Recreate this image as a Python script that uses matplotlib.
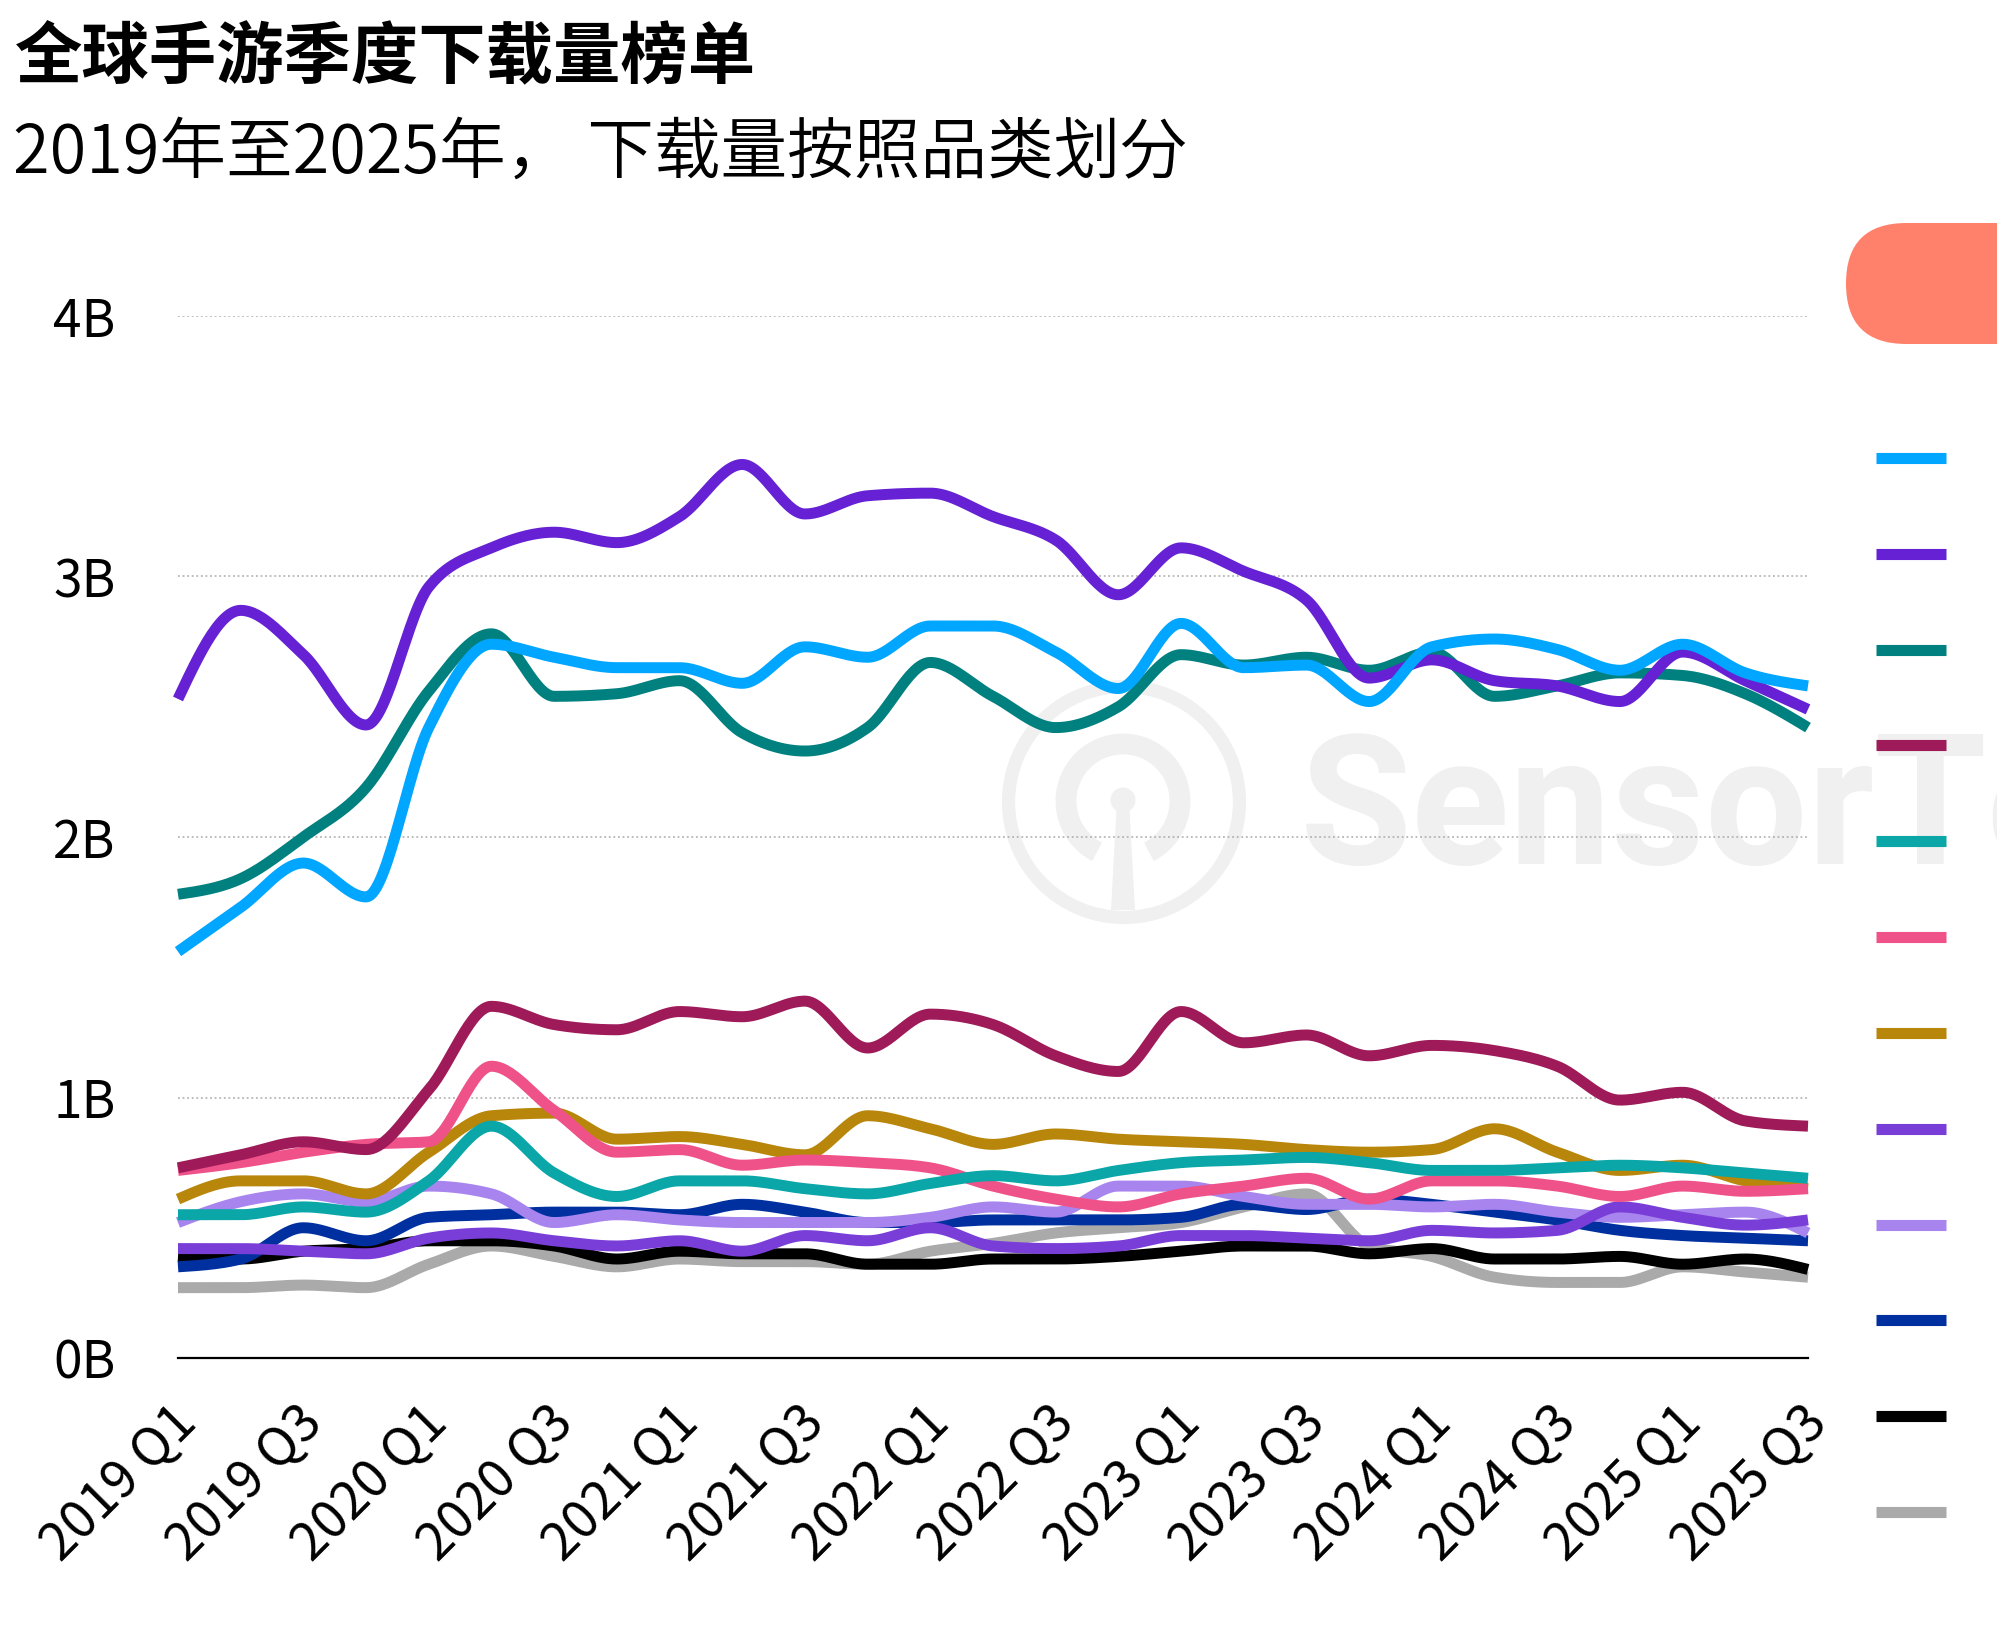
import numpy as np
import matplotlib.pyplot as plt
import matplotlib.transforms as mtransforms
from matplotlib import font_manager
from matplotlib.patches import FancyBboxPatch, Circle, Arc, Polygon

plt.rcParams['font.family'] = ['Noto Sans CJK SC', 'DejaVu Sans']

W, H = 1997, 1626

quarters = [f"{y} Q{q}" for y in range(2019, 2026) for q in range(1, 5)][:27]
y_ticks = [0, 1, 2, 3, 4]
y_labels = ['0B', '1B', '2B', '3B', '4B']

title = '全球手游季度下载量榜单'
subtitle = '2019年至2025年， 下载量按照品类划分'

# quarterly downloads, billions, legend order
light_blue = [1.56, 1.73, 1.90, 1.77, 2.42, 2.74, 2.69, 2.65, 2.65, 2.59, 2.73, 2.69, 2.81, 2.81,
              2.71, 2.57, 2.82, 2.65, 2.66, 2.52, 2.73, 2.76, 2.72, 2.64, 2.74, 2.63, 2.58]
violet = [2.53, 2.87, 2.70, 2.43, 2.96, 3.11, 3.17, 3.13, 3.23, 3.43, 3.24, 3.31, 3.32, 3.23,
          3.14, 2.93, 3.11, 3.02, 2.91, 2.61, 2.68, 2.60, 2.58, 2.52, 2.71, 2.60, 2.49]
dark_teal = [1.78, 1.84, 2.00, 2.19, 2.56, 2.78, 2.54, 2.55, 2.60, 2.40, 2.33, 2.42, 2.67, 2.54,
             2.42, 2.50, 2.70, 2.66, 2.69, 2.64, 2.71, 2.54, 2.58, 2.63, 2.62, 2.55, 2.42]
maroon = [0.73, 0.78, 0.83, 0.80, 1.03, 1.35, 1.28, 1.26, 1.33, 1.31, 1.37, 1.19, 1.32, 1.28,
          1.16, 1.10, 1.33, 1.21, 1.24, 1.16, 1.20, 1.18, 1.12, 0.99, 1.02, 0.91, 0.89]
light_teal = [0.55, 0.55, 0.58, 0.56, 0.68, 0.89, 0.71, 0.62, 0.68, 0.68, 0.65, 0.63, 0.67, 0.70,
              0.68, 0.72, 0.75, 0.76, 0.77, 0.75, 0.72, 0.72, 0.73, 0.74, 0.73, 0.71, 0.69]
pink = [0.72, 0.75, 0.79, 0.82, 0.83, 1.12, 0.95, 0.79, 0.80, 0.74, 0.76, 0.75, 0.73, 0.66,
        0.61, 0.58, 0.63, 0.66, 0.69, 0.61, 0.68, 0.68, 0.66, 0.62, 0.66, 0.64, 0.65]
gold = [0.61, 0.68, 0.68, 0.63, 0.79, 0.93, 0.94, 0.84, 0.85, 0.82, 0.78, 0.93, 0.88, 0.82,
        0.86, 0.84, 0.83, 0.82, 0.80, 0.79, 0.80, 0.88, 0.79, 0.72, 0.74, 0.68, 0.65]
purple = [0.42, 0.42, 0.41, 0.40, 0.46, 0.48, 0.45, 0.43, 0.45, 0.41, 0.47, 0.45, 0.50, 0.43,
          0.42, 0.43, 0.47, 0.47, 0.46, 0.45, 0.49, 0.48, 0.49, 0.58, 0.54, 0.51, 0.53]
lavender = [0.52, 0.60, 0.63, 0.60, 0.66, 0.63, 0.52, 0.55, 0.53, 0.52, 0.52, 0.52, 0.54, 0.58,
            0.56, 0.66, 0.66, 0.62, 0.59, 0.59, 0.58, 0.59, 0.56, 0.54, 0.55, 0.56, 0.48]
navy = [0.35, 0.38, 0.50, 0.45, 0.54, 0.55, 0.56, 0.56, 0.55, 0.59, 0.56, 0.52, 0.52, 0.53,
        0.53, 0.53, 0.54, 0.59, 0.57, 0.61, 0.59, 0.56, 0.53, 0.49, 0.47, 0.46, 0.45]
black = [0.39, 0.38, 0.41, 0.42, 0.45, 0.45, 0.43, 0.38, 0.41, 0.40, 0.40, 0.36, 0.36, 0.38,
         0.38, 0.39, 0.41, 0.43, 0.43, 0.40, 0.42, 0.38, 0.38, 0.39, 0.36, 0.38, 0.34]
gray = [0.27, 0.27, 0.28, 0.27, 0.36, 0.43, 0.39, 0.35, 0.38, 0.37, 0.37, 0.36, 0.41, 0.44,
        0.48, 0.50, 0.52, 0.58, 0.63, 0.43, 0.39, 0.31, 0.29, 0.29, 0.35, 0.33, 0.31]

series = [
    (light_blue, '#00a6ff'),
    (violet, '#6521d3'),
    (dark_teal, '#00807f'),
    (maroon, '#9e1a58'),
    (light_teal, '#0aa6a8'),
    (pink, '#ef5289'),
    (gold, '#b8860b'),
    (purple, '#7a3ed8'),
    (lavender, '#a784ee'),
    (navy, '#0030a0'),
    (black, '#000000'),
    (gray, '#aaaaaa'),
]


def monotone_curve(vals, steps=30):
    # monotone cubic drawing between the quarterly points (like d3 curveMonotoneX)
    y = np.asarray(vals, float)
    n = len(y)
    s = np.diff(y)
    t = np.zeros(n)
    for i in range(1, n - 1):
        if s[i - 1] * s[i] > 0:
            p = (s[i - 1] + s[i]) / 2
            t[i] = np.sign(s[i - 1]) * min(2 * abs(s[i - 1]), 2 * abs(s[i]), abs(p))
    t[0] = (3 * s[0] - t[1]) / 2
    t[-1] = (3 * s[-1] - t[-2]) / 2
    xs, ys = [], []
    u = np.linspace(0, 1, steps, endpoint=False)
    for i in range(n - 1):
        h00 = 2 * u**3 - 3 * u**2 + 1
        h10 = u**3 - 2 * u**2 + u
        h01 = -2 * u**3 + 3 * u**2
        h11 = u**3 - u**2
        xs.append(i + u)
        ys.append(h00 * y[i] + h10 * t[i] + h01 * y[i + 1] + h11 * t[i + 1])
    xs.append([n - 1])
    ys.append([y[-1]])
    return np.concatenate(xs), np.concatenate(ys)


# thin CJK face for the subtitle if one is installed, narrow face for the watermark
installed = font_manager.fontManager.ttflist
thin_cjk = [f for f in installed if 'Noto Sans CJK' in f.name and str(f.weight) in
            ('100', '200', '300', '350', 'thin', 'light', 'extra-light', 'ultralight')]
if thin_cjk:
    thin_cjk.sort(key=lambda f: ('SC' not in f.name, -int(f.weight) if str(f.weight).isdigit() else 0))
    sub_font = font_manager.FontProperties(fname=thin_cjk[0].fname, size=48)
else:
    sub_font = font_manager.FontProperties(family=['Noto Sans CJK SC', 'DejaVu Sans'], size=48)
names = {f.name for f in installed}
wm_family = 'Liberation Sans Narrow' if 'Liberation Sans Narrow' in names else 'Roboto'

fig = plt.figure(figsize=(W / 100, H / 100), dpi=100)

# background canvas in pixel units: watermark and the cut-off button
bg = fig.add_axes([0, 0, 1, 1], zorder=0)
bg.set_xlim(0, W)
bg.set_ylim(H, 0)
bg.axis('off')
wm = '#f0f0f0'
bg.add_patch(Circle((1124, 802), 115.5, fill=False, lw=9.5, color=wm))
bg.add_patch(Arc((1123, 801), 114, 114, theta1=117, theta2=423, lw=15, color=wm))
bg.add_patch(Polygon([(1117, 800), (1129, 800), (1135, 910), (1111, 910)], closed=True, color=wm, lw=0))
bg.add_patch(Circle((1123, 800), 12.5, color=wm, lw=0))
bg.text(1300, 864, 'SensorTower', fontsize=131, fontweight='bold', family=wm_family, color=wm,
        ha='left', va='baseline', clip_on=True)
bg.add_patch(FancyBboxPatch((1846, 223), 400, 121, boxstyle='round,pad=0,rounding_size=60.5',
                            color='#ff816b', lw=0))

fig.text(15 / W, 1 - 24 / H, title, fontsize=48.5, fontweight='bold', ha='left', va='top')
fig.text(13 / W, 1 - 120 / H, subtitle, fontproperties=sub_font, ha='left', va='top')

ax = fig.add_axes([178 / W, (H - 1358) / H, (1808 - 178) / W, (1358 - 316) / H], zorder=1)
ax.set_facecolor('none')
for vals, color in reversed(series):
    xs, ys = monotone_curve(vals)
    ax.plot(xs, ys, color=color, lw=7.9, solid_capstyle='butt', solid_joinstyle='round', clip_on=False)

ax.set_xlim(0, len(quarters) - 1)
ax.set_ylim(0, 4)
ax.set_yticks(y_ticks)
ax.set_yticklabels(y_labels, fontsize=37)
ax.set_xticks(range(0, len(quarters), 2))
ax.set_xticklabels(quarters[::2], fontsize=37.5, rotation=45, ha='right', va='top', rotation_mode='anchor')
ax.tick_params(axis='y', length=0, pad=45)
ax.tick_params(axis='x', length=0, pad=27)
shift = mtransforms.ScaledTranslation(-8 / 100, 0, fig.dpi_scale_trans)
for lbl in ax.get_xticklabels():
    lbl.set_transform(lbl.get_transform() + shift)
ax.yaxis.grid(True, color='#aaaaaa', lw=1.1, linestyle=(0, (1.2, 1.8)))
ax.set_axisbelow(True)
for side in ['top', 'right', 'left']:
    ax.spines[side].set_visible(False)
ax.spines['bottom'].set_color('black')
ax.spines['bottom'].set_linewidth(1.6)

# legend keys (labels fall outside the cropped view)
lax = fig.add_axes([1876 / W, (H - 1512) / H, 70 / W, (1512 - 458) / H], zorder=1)
lax.set_xlim(0, 1)
lax.set_ylim(len(series) - 1, 0)
lax.axis('off')
for k, (vals, color) in enumerate(series):
    lax.plot([0, 1], [k, k], color=color, lw=8, solid_capstyle='butt', clip_on=False)

fig.savefig('out.png', dpi=100)
